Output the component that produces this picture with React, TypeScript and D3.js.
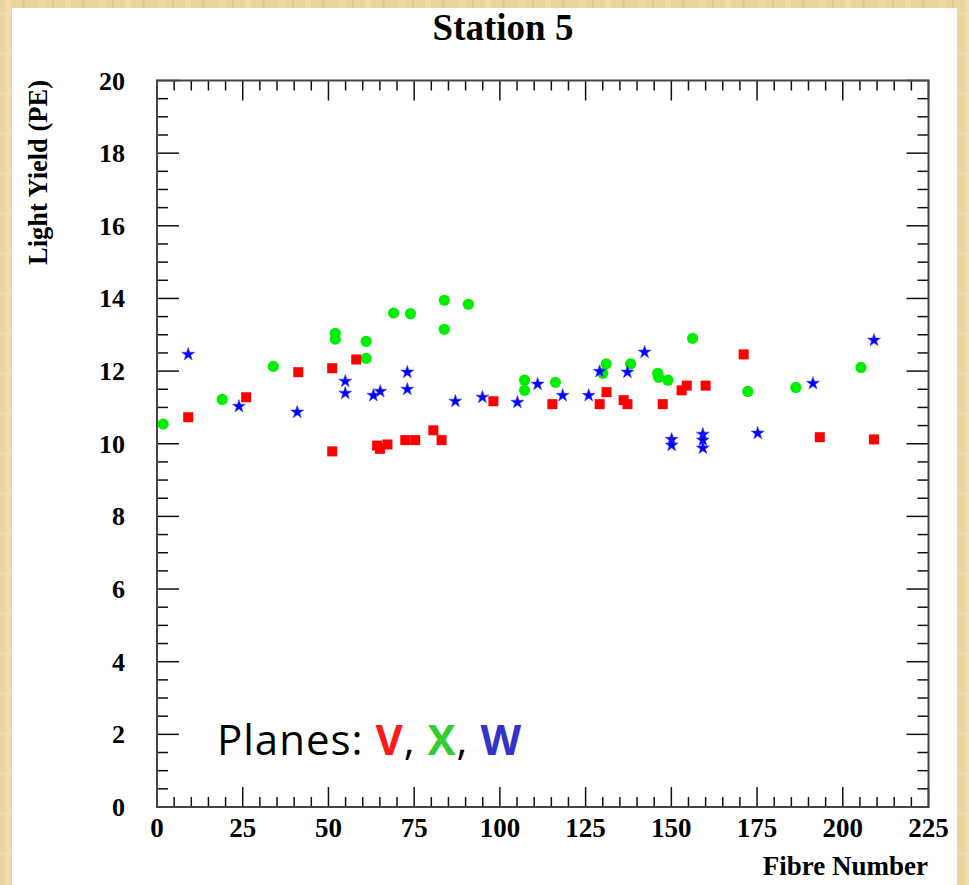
import React from "react";
import * as d3 from "d3";

const vX = [9.1, 26, 41.2, 51.1, 51.1, 58.1, 64.2, 65, 67.2, 72.4, 75.3, 80.6, 83, 98.1, 115.3, 129.1, 131.1, 136.1, 137.2, 147.5, 153, 154.5, 160, 171.1, 193.3, 209.1];
const vY = [10.73, 11.28, 11.97, 12.08, 9.79, 12.32, 9.95, 9.86, 9.98, 10.1, 10.1, 10.37, 10.1, 11.17, 11.09, 11.09, 11.42, 11.2, 11.09, 11.09, 11.47, 11.6, 11.6, 12.46, 10.18, 10.12];

const xX = [1.8, 19, 33.9, 52, 52, 61, 61, 69, 73.9, 83.8, 83.8, 90.8, 107.2, 107.2, 116.2, 131, 130, 138.1, 146, 146.3, 149, 156.2, 172.3, 186.3, 205.3];
const xY = [10.54, 11.22, 12.13, 13.04, 12.88, 12.82, 12.35, 13.6, 13.58, 13.95, 13.15, 13.84, 11.75, 11.47, 11.69, 12.2, 11.94, 12.2, 11.94, 11.83, 11.75, 12.9, 11.44, 11.55, 12.1];

const wX = [9.1, 23.9, 40.9, 54.9, 54.9, 63.1, 65.1, 73, 73, 87, 94.9, 105.1, 111, 118.3, 125.9, 129.1, 137.2, 142.2, 150.1, 150.1, 159.2, 159.2, 159.2, 175.2, 191.3, 209.1];
const wY = [12.46, 11.03, 10.87, 11.72, 11.39, 11.33, 11.44, 11.97, 11.5, 11.17, 11.28, 11.14, 11.64, 11.33, 11.33, 11.99, 11.97, 12.52, 10.12, 9.96, 10.26, 10.1, 9.88, 10.29, 11.66, 12.85];

const xTickLabels = [0, 25, 50, 75, 100, 125, 150, 175, 200, 225];
const yTickLabels = [0, 2, 4, 6, 8, 10, 12, 14, 16, 18, 20];

const W = 969, H = 885;
const L = 157, R = 928.5, T = 80.5, B = 807;

export default function App() {
  const x = d3.scaleLinear().domain([0, 225]).range([L, R]);
  const y = d3.scaleLinear().domain([0, 20]).range([B, T]);
  const xMinor = d3.range(0, 226, 5);
  const yMinor = d3.range(0, 20.01, 0.5);
  const star = d3.symbol().type(d3.symbolStar).size(52)();
  const serif = "'Liberation Serif', 'Times New Roman', serif";
  const comic = "'Comic Sans MS', 'Open Sans', 'DejaVu Sans', sans-serif";

  return (
    <svg width={W} height={H} style={{ position: "absolute", left: 0, top: 0 }}>
      <defs>
        <pattern id="parch" width="60" height="40" patternUnits="userSpaceOnUse">
          <rect width="60" height="40" fill="#e9d39e" />
          <rect x="5" width="6" height="40" fill="#f2e2b4" opacity="0.7" />
          <rect x="22" width="3" height="40" fill="#dcc187" opacity="0.6" />
          <rect x="38" width="8" height="40" fill="#f0dca8" opacity="0.6" />
          <rect x="52" width="2" height="40" fill="#d8bb80" opacity="0.5" />
          <rect y="12" width="60" height="3" fill="#f3e4b8" opacity="0.4" />
        </pattern>
      </defs>
      <rect width={W} height={H} fill="url(#parch)" />
      <rect x={12} y={8} width={945} height={H - 8} fill="#ffffff" />

      <text x={503} y={40} textAnchor="middle" fontFamily={serif} fontWeight="bold" fontSize={37}>Station 5</text>

      {xMinor.map((v) => {
        const major = v % 25 === 0;
        const len = major ? 20 : 10;
        return (
          <g key={"xt" + v} stroke="#111" strokeWidth={1.5}>
            <line x1={x(v)} x2={x(v)} y1={B} y2={B - len} />
            <line x1={x(v)} x2={x(v)} y1={T} y2={T + len} />
          </g>
        );
      })}
      {yMinor.map((v) => {
        const major = Math.abs(v % 2) < 1e-6;
        const len = major ? 22 : 11;
        return (
          <g key={"yt" + v} stroke="#111" strokeWidth={1.5}>
            <line x1={L} x2={L + len} y1={y(v)} y2={y(v)} />
            <line x1={R} x2={R - len} y1={y(v)} y2={y(v)} />
          </g>
        );
      })}
      <rect x={L} y={T} width={R - L} height={B - T} fill="none" stroke="#444" strokeWidth={2} />

      {xTickLabels.map((v) => (
        <text key={"xl" + v} x={x(v)} y={837} textAnchor="middle" fontFamily={serif} fontWeight="bold" fontSize={27}>{v}</text>
      ))}
      {yTickLabels.map((v) => (
        <text key={"yl" + v} x={125} y={y(v) + 9} textAnchor="end" fontFamily={serif} fontWeight="bold" fontSize={26}>{v}</text>
      ))}

      <text x={928} y={875} textAnchor="end" fontFamily={serif} fontWeight="bold" fontSize={27}>Fibre Number</text>
      <text transform="translate(47,80) rotate(-90)" textAnchor="end" fontFamily={serif} fontWeight="bold" fontSize={26.5}>Light Yield (PE)</text>

      {xX.map((v, i) => (
        <circle key={"x" + i} cx={x(v)} cy={y(xY[i])} r={5.6} fill="#00ee00" />
      ))}
      {vX.map((v, i) => (
        <rect key={"v" + i} x={x(v) - 5} y={y(vY[i]) - 5} width={10} height={10} fill="#ff0000" />
      ))}
      {wX.map((v, i) => (
        <path key={"w" + i} d={star} transform={`translate(${x(v)},${y(wY[i])})`} fill="#0000ff" stroke="#3a3aff" strokeWidth={0.6} />
      ))}

      <text x={217} y={755} fontFamily={comic} fontSize={42} letterSpacing={1}>
        <tspan fill="#000">Planes: </tspan>
        <tspan fill="#ff1a1a" fontWeight="bold">V</tspan>
        <tspan fill="#000">, </tspan>
        <tspan fill="#33cc33" fontWeight="bold">X</tspan>
        <tspan fill="#000">, </tspan>
        <tspan fill="#3333cc" fontWeight="bold">W</tspan>
      </text>
    </svg>
  );
}
